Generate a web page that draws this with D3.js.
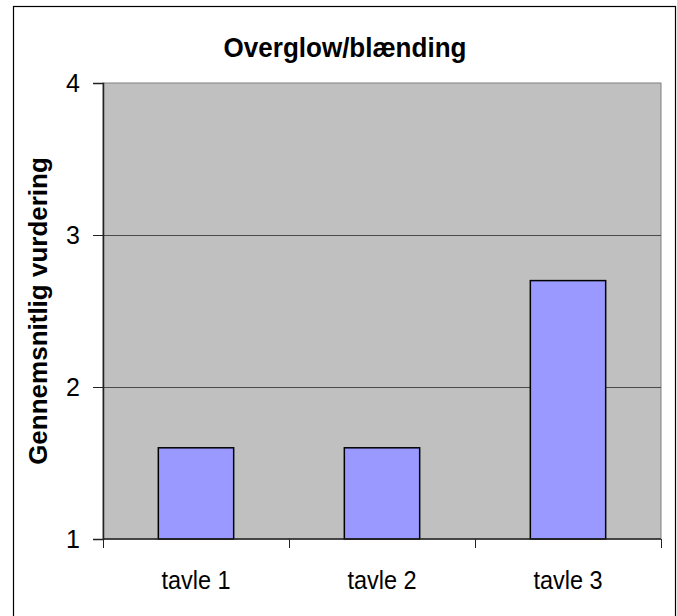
<!DOCTYPE html>
<html>
<head>
<meta charset="utf-8">
<script src="https://cdn.jsdelivr.net/npm/d3@7"></script>
<style>
  html, body { margin: 0; padding: 0; background: #fff; }
  svg { display: block; }
  text { font-family: "Liberation Sans", Arial, Helvetica, sans-serif; }
</style>
</head>
<body>
<svg id="chart" width="677" height="616"></svg>
<script>
const categories = ["tavle 1", "tavle 2", "tavle 3"];
const values = [1.6, 1.6, 2.7];
const yTicks = [1, 2, 3, 4];
const title = "Overglow/blænding";
const yLabel = "Gennemsnitlig vurdering";

const svg = d3.select("#chart");
const plot = { left: 103, right: 661, top: 83, bottom: 539 };

// outer frame (bottom edge lies outside the picture)
svg.append("rect")
  .attr("x", 13.5).attr("y", 6.5)
  .attr("width", 675.5 - 13.5).attr("height", 640)
  .attr("fill", "#fff").attr("stroke", "#000").attr("stroke-width", 1.2);

const x = d3.scaleBand().domain(categories).range([plot.left, plot.right]).padding(0);
const y = d3.scaleLinear().domain([1, 4]).range([plot.bottom, plot.top]);

// plot area
svg.append("rect")
  .attr("x", plot.left).attr("y", plot.top)
  .attr("width", plot.right - plot.left).attr("height", plot.bottom - plot.top)
  .attr("fill", "#c0c0c0").attr("stroke", "#808080").attr("stroke-width", 1);

// gridlines
svg.append("g").selectAll("line")
  .data(yTicks.filter(d => d > 1 && d < 4))
  .join("line")
  .attr("x1", plot.left).attr("x2", plot.right)
  .attr("y1", d => Math.round(y(d)) + 0.5).attr("y2", d => Math.round(y(d)) + 0.5)
  .attr("stroke", "#4a4a4a").attr("stroke-width", 1);

// bars
const barW = x.bandwidth() * 0.405;
svg.append("g").selectAll("rect")
  .data(categories)
  .join("rect")
  .attr("x", (d) => x(d) + (x.bandwidth() - barW) / 2)
  .attr("y", (d, i) => y(values[i]))
  .attr("width", barW)
  .attr("height", (d, i) => y(1) - y(values[i]))
  .attr("fill", "#9999ff")
  .attr("stroke", "#000").attr("stroke-width", 1.5);

// y axis
const yAxis = d3.axisLeft(y).tickValues(yTicks).tickFormat(d3.format("d"))
  .tickSize(10).tickPadding(13);
const gy = svg.append("g").attr("transform", `translate(${plot.left},0)`).call(yAxis);
gy.select(".domain").attr("stroke", "#222").attr("stroke-width", 1.5);
gy.selectAll(".tick line").attr("stroke", "#222").attr("stroke-width", 1);
gy.selectAll(".tick text").attr("font-size", 25).attr("fill", "#000")
  .attr("font-family", "'Liberation Sans', Arial, sans-serif");

// x axis
const xEdges = d3.scaleLinear().domain([0, categories.length]).range([plot.left, plot.right]);
const gx = svg.append("g");
gx.append("line")
  .attr("x1", plot.left).attr("x2", plot.right)
  .attr("y1", plot.bottom).attr("y2", plot.bottom)
  .attr("stroke", "#222").attr("stroke-width", 1.5);
gx.selectAll("line.tk")
  .data(d3.range(categories.length + 1))
  .join("line").attr("class", "tk")
  .attr("x1", d => Math.round(xEdges(d)) + 0.5).attr("x2", d => Math.round(xEdges(d)) + 0.5)
  .attr("y1", plot.bottom).attr("y2", plot.bottom + 9)
  .attr("stroke", "#222").attr("stroke-width", 1);
gx.selectAll("text")
  .data(categories)
  .join("text")
  .attr("transform", d => `translate(${x(d) + x.bandwidth() / 2},589) scale(0.94,1)`)
  .attr("text-anchor", "middle")
  .attr("font-size", 25)
  .attr("fill", "#000")
  .text(d => d);

// title
svg.append("text")
  .attr("transform", "translate(345,57) scale(0.93,1)")
  .attr("text-anchor", "middle")
  .attr("font-size", 28).attr("font-weight", "bold")
  .text(title);

// y label
svg.append("text")
  .attr("transform", `translate(47,${(plot.top + plot.bottom) / 2}) rotate(-90)`)
  .attr("text-anchor", "middle")
  .attr("font-size", 26).attr("font-weight", "bold")
  .text(yLabel);
</script>
</body>
</html>
